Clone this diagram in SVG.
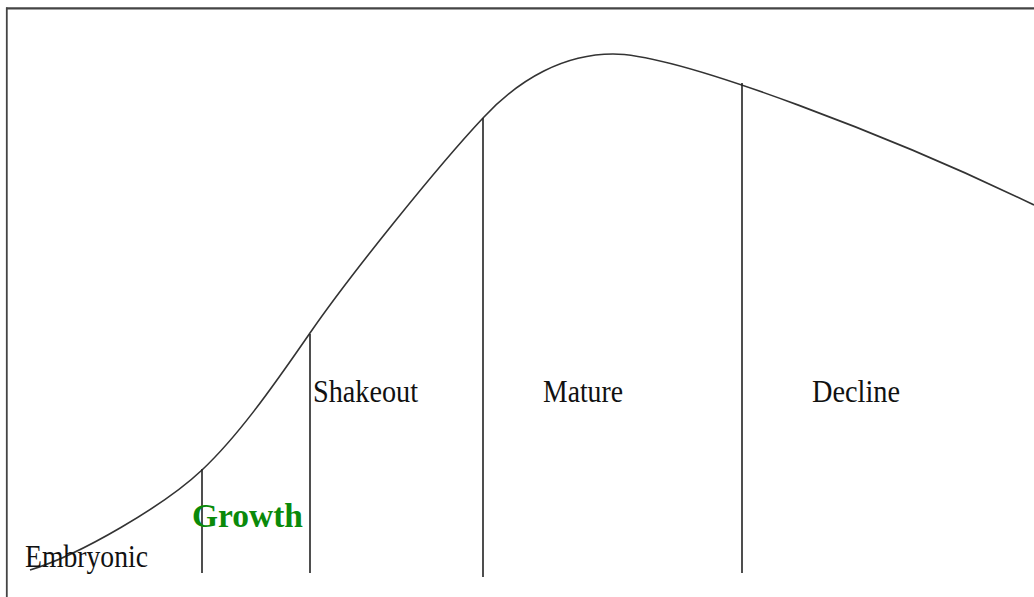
<svg xmlns="http://www.w3.org/2000/svg" width="1034" height="597" viewBox="0 0 1034 597">
<style>
.lbl{font-family:"Liberation Serif","Times New Roman",serif;font-size:31px;fill:#111}
.grow{font-family:"Liberation Serif","Times New Roman",serif;font-size:34px;font-weight:bold;fill:#0a8a0a}
.div{stroke:#222;stroke-width:1.6;fill:none}
.curve{stroke:#333;stroke-width:1.6;fill:none}
.frame{stroke:#444;fill:none}
</style>
<rect width="1034" height="597" fill="#fff"/>
<g id="frame">
<line class="frame" x1="6" y1="8.3" x2="1034" y2="8.3" stroke-width="2.2"/>
<line class="frame" x1="6.8" y1="7.5" x2="6.8" y2="597" stroke-width="1.8"/>
</g>
<g id="connectors">
<path id="curve" class="curve" d="M30,570 C80,555 165,505 202,470 C237,437 270,391 310,333 C350,275 438,166 483,118 C520,78 565,54 613,54 C680,54 900,140 1034,205"/>
<line class="div" x1="202" y1="469" x2="202" y2="573"/>
<line class="div" x1="310" y1="334" x2="310" y2="573"/>
<line class="div" x1="483" y1="118" x2="483" y2="577"/>
<line class="div" x1="742" y1="83" x2="742" y2="573"/>
</g>
<g id="embryonic"><text class="lbl" x="25" y="567" textLength="123" lengthAdjust="spacingAndGlyphs">Embryonic</text></g>
<g id="growth"><text class="grow" x="192" y="527" textLength="111" lengthAdjust="spacingAndGlyphs">Growth</text></g>
<g id="shakeout"><text class="lbl" x="313" y="402" textLength="105" lengthAdjust="spacingAndGlyphs">Shakeout</text></g>
<g id="mature"><text class="lbl" x="543" y="402" textLength="80" lengthAdjust="spacingAndGlyphs">Mature</text></g>
<g id="decline"><text class="lbl" x="812" y="402" textLength="88" lengthAdjust="spacingAndGlyphs">Decline</text></g>
</svg>
